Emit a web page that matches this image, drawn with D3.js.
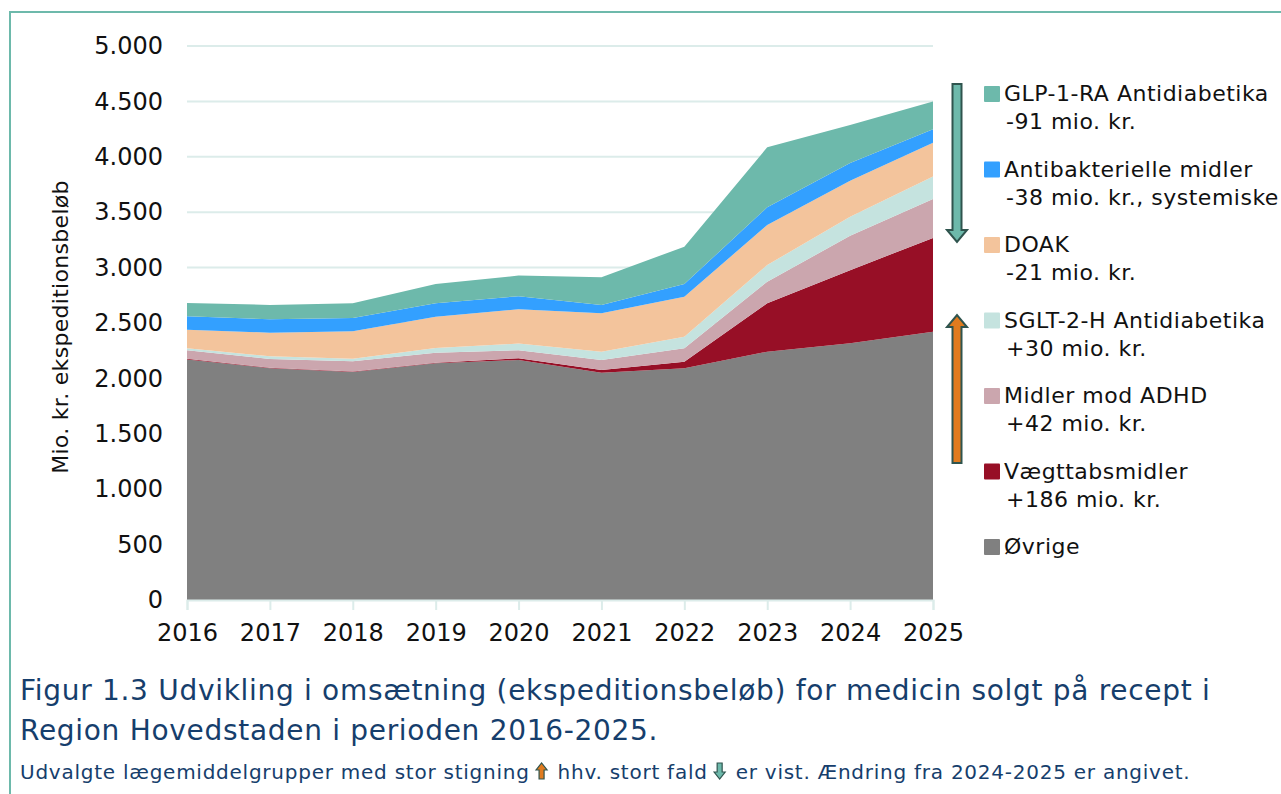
<!DOCTYPE html>
<html>
<head>
<meta charset="utf-8">
<script src="https://cdn.jsdelivr.net/npm/d3@7"></script>
<style>
  body { margin: 0; background: #fff; }
  svg text { font-family: "DejaVu Sans", Verdana, sans-serif; }
</style>
</head>
<body>
<div id="chart"></div>
<script>
// data (mio. kr.)
var years = [2016, 2017, 2018, 2019, 2020, 2021, 2022, 2023, 2024, 2025];
var ovrige  = [2170, 2092, 2058, 2136, 2166, 2052, 2091, 2241, 2317, 2422];
var vaegt   = [8, 5, 5, 6, 16, 24, 60, 437, 660, 846];
var adhd    = [75, 79, 91, 90, 72, 90, 120, 195, 310, 352];
var sglt    = [18, 24, 24, 42, 60, 75, 106, 150, 172, 202];
var doak    = [169, 213, 247, 283, 310, 346, 361, 361, 325, 304];
var antibak = [120, 121, 120, 121, 118, 75, 114, 160, 160, 122];
var glp     = [120, 129, 133, 174, 186, 250, 337, 542, 343, 252];

var seriesNames = ["Øvrige", "Vægttabsmidler", "Midler mod ADHD", "SGLT-2-H Antidiabetika",
                   "DOAK", "Antibakterielle midler", "GLP-1-RA Antidiabetika"];
var seriesValues = [ovrige, vaegt, adhd, sglt, doak, antibak, glp];
var seriesColors = ["#808080", "#970f26", "#cba6ae", "#c5e3df", "#f3c49c", "#33a0ff", "#6db9ab"];

// legend, top to bottom
var legendItems = [
  {name: "GLP-1-RA Antidiabetika", sub: "-91 mio. kr."},
  {name: "Antibakterielle midler", sub: "-38 mio. kr., systemiske"},
  {name: "DOAK", sub: "-21 mio. kr."},
  {name: "SGLT-2-H Antidiabetika", sub: "+30 mio. kr."},
  {name: "Midler mod ADHD", sub: "+42 mio. kr."},
  {name: "Vægttabsmidler", sub: "+186 mio. kr."},
  {name: "Øvrige", sub: null}
];

var yTicks = [0, 500, 1000, 1500, 2000, 2500, 3000, 3500, 4000, 4500, 5000];

var W = 1281, H = 794;
var plot = {left: 187, right: 933, top: 46, bottom: 600};

var svg = d3.select("#chart").append("svg")
  .attr("width", W)
  .attr("height", H);

// frame
svg.append("path")
  .attr("d", "M10," + H + " V12 H" + W)
  .attr("fill", "none")
  .attr("stroke", "#6db9ab")
  .attr("stroke-width", 2);

// build table for stack
var table = years.map(function(y, i) {
  var row = {year: y};
  seriesNames.forEach(function(n, j) { row[n] = seriesValues[j][i]; });
  return row;
});

var x = d3.scaleLinear()
  .domain([years[0], years[years.length - 1]])
  .range([plot.left, plot.right]);

var y = d3.scaleLinear()
  .domain([0, 5000])
  .range([plot.bottom, plot.top]);

var dk = d3.formatLocale({decimal: ",", thousands: ".", grouping: [3], currency: ["", " kr."]});
var fmt = dk.format(",");

// gridlines
svg.append("g")
  .selectAll("line")
  .data(yTicks.slice(1))
  .enter().append("line")
    .attr("x1", plot.left)
    .attr("x2", plot.right)
    .attr("y1", function(d) { return y(d); })
    .attr("y2", function(d) { return y(d); })
    .attr("stroke", "#dcecea")
    .attr("stroke-width", 2);

// stacked areas
var stack = d3.stack().keys(seriesNames);
var layers = stack(table);

var area = d3.area()
  .x(function(d) { return x(d.data.year); })
  .y0(function(d) { return y(d[0]); })
  .y1(function(d) { return y(d[1]); });

svg.append("g")
  .selectAll("path")
  .data(layers)
  .enter().append("path")
    .attr("d", area)
    .attr("fill", function(d, i) { return seriesColors[i]; });

// y axis
var yAxis = svg.append("g")
  .attr("transform", "translate(" + plot.left + ",0)")
  .call(d3.axisLeft(y).tickValues(yTicks).tickFormat(fmt).tickSize(0).tickPadding(24));
yAxis.select(".domain").remove();
yAxis.selectAll("text")
  .attr("font-size", 24)
  .attr("fill", "#111")
  .style("font-family", "'DejaVu Sans', Verdana, sans-serif");

// x axis
var xAxis = svg.append("g")
  .attr("transform", "translate(0," + plot.bottom + ")")
  .call(d3.axisBottom(x).tickValues(years).tickFormat(d3.format("d")).tickSize(10).tickPadding(14));
xAxis.select(".domain").attr("stroke", "#dcecea").attr("stroke-width", 2);
xAxis.selectAll(".tick line").attr("stroke", "#dcecea").attr("stroke-width", 2);
xAxis.selectAll("text")
  .attr("font-size", 24)
  .attr("fill", "#111")
  .style("font-family", "'DejaVu Sans', Verdana, sans-serif");

// y axis title
svg.append("text")
  .attr("transform", "translate(68,327) rotate(-90)")
  .attr("text-anchor", "middle")
  .attr("font-size", 22)
  .attr("letter-spacing", 0.3)
  .attr("fill", "#111")
  .text("Mio. kr. ekspeditionsbeløb");

// legend
var lg = svg.append("g");
legendItems.forEach(function(item, i) {
  var base = 101 + i * 75.5;
  var col = seriesColors[seriesNames.indexOf(item.name)];
  lg.append("rect")
    .attr("x", 984).attr("y", base - 15)
    .attr("width", 16).attr("height", 16)
    .attr("rx", 1)
    .attr("fill", col);
  lg.append("text")
    .attr("x", 1004).attr("y", base)
    .attr("font-size", 22)
    .attr("letter-spacing", 0.5)
    .attr("fill", "#111")
    .text(item.name);
  if (item.sub) {
    lg.append("text")
      .attr("x", 1006).attr("y", base + 28)
      .attr("font-size", 22)
      .attr("letter-spacing", 0.5)
      .attr("fill", "#111")
      .text(item.sub);
  }
});

// big arrows next to legend
function arrow(g, cx, yTail, yTip, fill) {
  var dir = yTip > yTail ? 1 : -1;
  var headLen = 12, shaft = 4.5, head = 10;
  var yb = yTip - dir * headLen;
  var p = "M" + (cx - shaft) + "," + yTail +
          " L" + (cx - shaft) + "," + yb +
          " L" + (cx - head) + "," + yb +
          " L" + cx + "," + yTip +
          " L" + (cx + head) + "," + yb +
          " L" + (cx + shaft) + "," + yb +
          " L" + (cx + shaft) + "," + yTail + " Z";
  g.append("path")
    .attr("d", p)
    .attr("fill", fill)
    .attr("stroke", "#2f544e")
    .attr("stroke-width", 2)
    .attr("stroke-linejoin", "miter");
}
arrow(svg, 957, 84, 242, "#6db9ab");
arrow(svg, 957, 463, 315, "#e07b1f");

// caption
var capColor = "#163e6c";
svg.append("text")
  .attr("x", 20).attr("y", 700)
  .attr("font-size", 28)
  .attr("letter-spacing", 0.7)
  .attr("fill", capColor)
  .text("Figur 1.3 Udvikling i omsætning (ekspeditionsbeløb) for medicin solgt på recept i");
svg.append("text")
  .attr("x", 20).attr("y", 740)
  .attr("font-size", 28)
  .attr("letter-spacing", 0.7)
  .attr("fill", capColor)
  .text("Region Hovedstaden i perioden 2016-2025.");

// note line with small arrows
var noteParts = ["Udvalgte lægemiddelgrupper med stor stigning", "hhv. stort fald", "er vist.  Ændring fra 2024-2025 er angivet."];
var nx = 20, ny = 779;
noteParts.forEach(function(t, i) {
  var tx = svg.append("text")
    .attr("x", nx).attr("y", ny)
    .attr("font-size", 20)
    .attr("letter-spacing", 0.75)
    .attr("fill", capColor)
    .text(t);
  nx += tx.node().getComputedTextLength();
  if (i < 2) {
    var ag = svg.append("g");
    var cx = nx + 12;
    if (i === 0) arrowSmall(ag, cx, ny, ny - 16, "#e07b1f");
    else arrowSmall(ag, cx, ny - 16, ny, "#6db9ab");
    nx += 28;
  }
});
function arrowSmall(g, cx, yTail, yTip, fill) {
  var dir = yTip > yTail ? 1 : -1;
  var yb = yTip - dir * 7;
  var p = "M" + (cx - 2.5) + "," + yTail + " L" + (cx - 2.5) + "," + yb + " L" + (cx - 5.5) + "," + yb +
          " L" + cx + "," + yTip + " L" + (cx + 5.5) + "," + yb + " L" + (cx + 2.5) + "," + yb +
          " L" + (cx + 2.5) + "," + yTail + " Z";
  g.append("path").attr("d", p).attr("fill", fill).attr("stroke", "#2f544e").attr("stroke-width", 1.2);
}
</script>
</body>
</html>
